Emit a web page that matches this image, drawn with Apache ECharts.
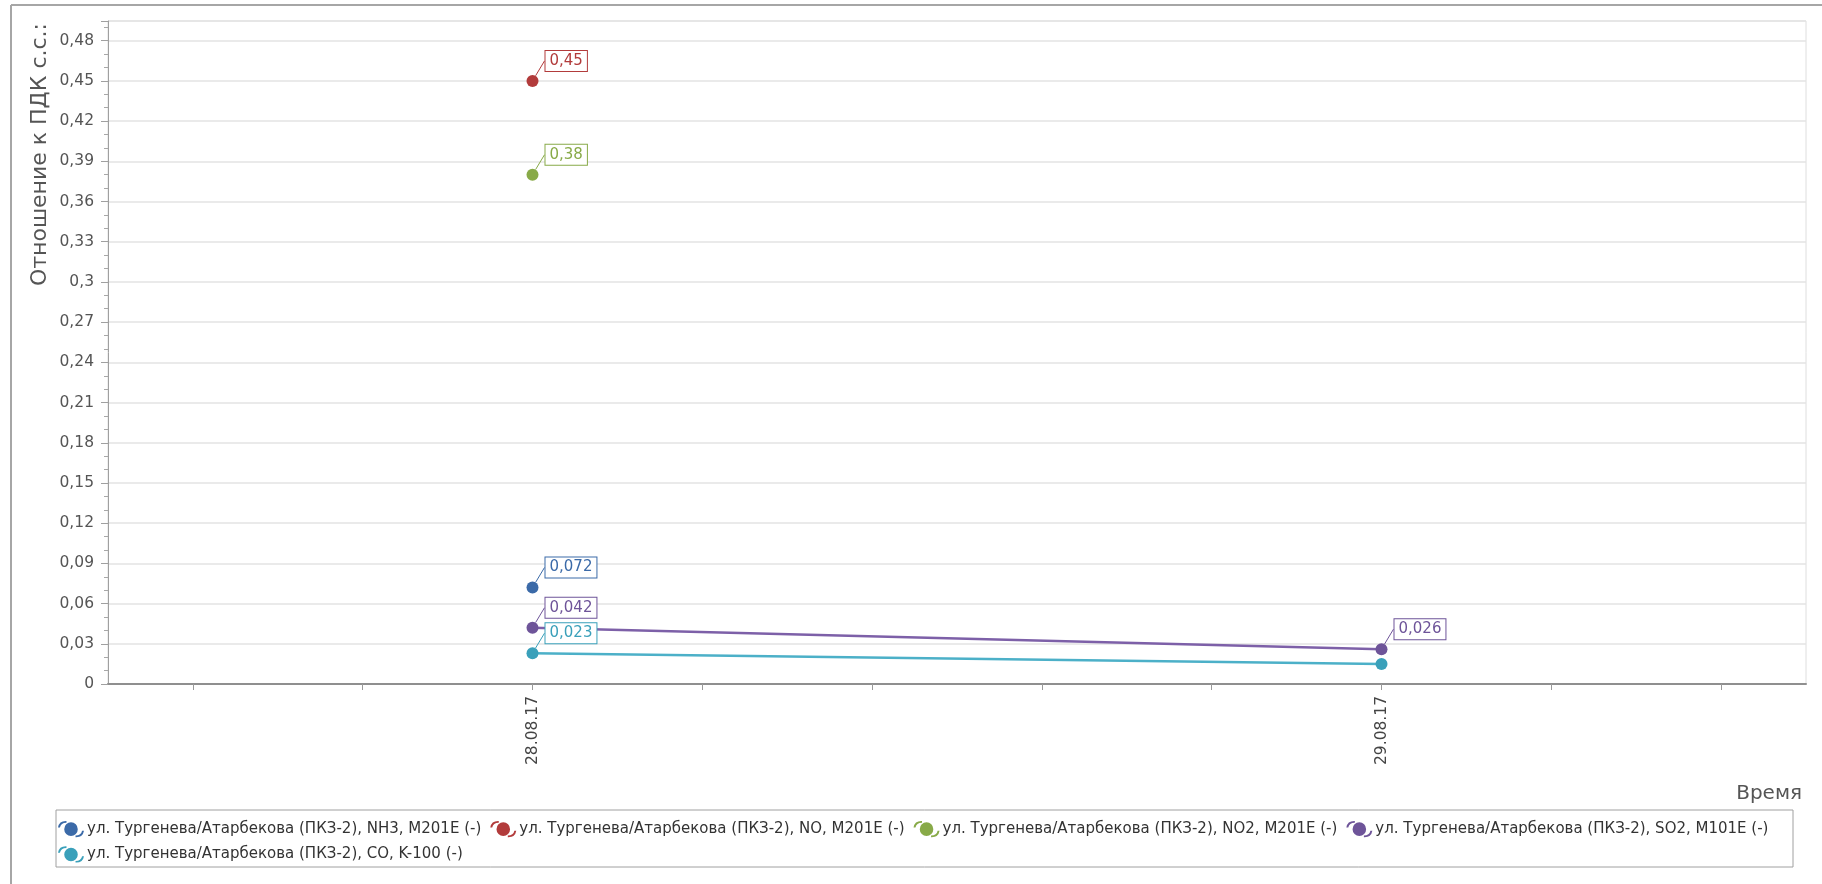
<!DOCTYPE html>
<html>
<head>
<meta charset="utf-8">
<script src="https://cdn.jsdelivr.net/npm/echarts@6/dist/echarts.min.js"></script>
<style>
html,body{margin:0;padding:0;background:#fff;}
#chart{width:1822px;height:884px;}
</style>
</head>
<body>
<div id="chart"></div>
<script>
// ---- data ----
const categories = ['28.08.17', '29.08.17'];
const seriesNames = [
  'ул. Тургенева/Атарбекова (ПКЗ-2), NH3, M201E (-)',
  'ул. Тургенева/Атарбекова (ПКЗ-2), NO, M201E (-)',
  'ул. Тургенева/Атарбекова (ПКЗ-2), NO2, M201E (-)',
  'ул. Тургенева/Атарбекова (ПКЗ-2), SO2, M101E (-)',
  'ул. Тургенева/Атарбекова (ПКЗ-2), CO, K-100 (-)'
];
const nh3 = [0.072, null];
const no = [0.45, null];
const no2 = [0.38, null];
const so2 = [0.042, 0.026];
const co = [0.023, 0.015];
const coLabelled = [true, false];
const yTickValues = [0, 0.03, 0.06, 0.09, 0.12, 0.15, 0.18, 0.21, 0.24, 0.27, 0.3, 0.33, 0.36, 0.39, 0.42, 0.45, 0.48];
const yAxisTitle = 'Отношение к ПДК с.с.:';
const xAxisTitle = 'Время';

// ---- styling ----
const FONT = 'DejaVu Sans';
const colors = ['#3b6aa8', '#b23b3b', '#88aa48', '#6e5499', '#3aa0ba'];
const lineColors = ['#3b6aa8', '#b23b3b', '#88aa48', '#7d60a8', '#4cb0c8'];
const fmt = v => String(+(+v).toFixed(3)).replace('.', ',');

const legendIcon = 'path://M6,8a6,6 0 1,0 12,0a6,6 0 1,0 -12,0Z M0.5,6.5 Q1.5,0.5 8,0.8 L8,2.3 Q3,2.3 2.2,6.5 Z M23.5,9.5 Q22.5,15.5 16,15.2 L16,13.7 Q21,13.7 21.8,9.5 Z';

function buildData(values, labelled) {
  const out = [];
  values.forEach((v, i) => {
    if (v === null) return;
    const item = { value: [i + 0.5, v] };
    if (labelled && !labelled[i]) item.label = { show: false };
    out.push(item);
  });
  return out;
}

function makeSeries(idx, values, labelled) {
  return {
    name: seriesNames[idx],
    type: 'line',
    data: buildData(values, labelled),
    symbol: 'circle',
    symbolSize: 12,
    color: colors[idx],
    itemStyle: { color: colors[idx] },
    lineStyle: { color: lineColors[idx], width: 2.5 },
    z: 3,
    label: {
      show: true,
      formatter: p => fmt(p.value[1]),
      color: colors[idx],
      backgroundColor: '#fff',
      borderColor: colors[idx],
      borderWidth: 1,
      padding: [3, 4, 2, 4],
      fontFamily: FONT,
      fontSize: 15
    },
    labelLine: { show: true, lineStyle: { color: colors[idx], width: 1 } },
    labelLayout: p => ({
      x: p.rect.x + p.rect.width / 2 + 13,
      y: p.rect.y + p.rect.height / 2 - 20,
      align: 'left',
      verticalAlign: 'middle',
      hideOverlap: false
    }),
    emphasis: { disabled: true },
    animation: false
  };
}

const chart = echarts.init(document.getElementById('chart'));
chart.setOption({
  animation: false,
  backgroundColor: '#fff',
  grid: {
    left: 108, right: 16, top: 21, bottom: 200,
    containLabel: false, outerBoundsMode: 'none',
    show: true, borderColor: '#dedede', borderWidth: 1, backgroundColor: 'transparent'
  },
  graphic: [
    { type: 'line', shape: { x1: 11, y1: 5, x2: 1822, y2: 5 }, style: { stroke: '#a6a6a6', lineWidth: 2 }, silent: true },
    { type: 'line', shape: { x1: 11, y1: 5, x2: 11, y2: 884 }, style: { stroke: '#a6a6a6', lineWidth: 2 }, silent: true },
    { type: 'rect', shape: { x: 56, y: 810, width: 1737, height: 57 }, style: { fill: 'none', stroke: '#a0a0a0', lineWidth: 1 }, silent: true }
  ],
  xAxis: {
    type: 'value',
    min: 0, max: 2,
    name: xAxisTitle,
    nameLocation: 'end',
    nameGap: -4,
    nameMoveOverlap: false,
    nameTextStyle: { fontFamily: FONT, fontSize: 20, color: '#555', align: 'right', verticalAlign: 'top', padding: [100, 0, 0, 0] },
    axisLine: { show: true, lineStyle: { color: '#8f8f8f', width: 2 } },
    axisTick: { show: true, length: 6, lineStyle: { color: '#9a9a9a' },
      customValues: [0.1, 0.3, 0.5, 0.7, 0.9, 1.1, 1.3, 1.5, 1.7, 1.9] },
    axisLabel: {
      customValues: categories.map((c, i) => i + 0.5),
      formatter: v => categories[Math.round(v - 0.5)],
      rotate: 90, margin: 12,
      fontFamily: FONT, fontSize: 15.5, color: '#444'
    },
    splitLine: { show: false }
  },
  yAxis: {
    type: 'value',
    min: 0, max: 0.4947, interval: 0.03,
    name: yAxisTitle,
    nameLocation: 'end',
    nameRotate: 90,
    nameGap: -2,
    nameMoveOverlap: false,
    nameTextStyle: { fontFamily: FONT, fontSize: 22, color: '#555', align: 'right', verticalAlign: 'bottom', padding: [0, 0, 57, 0] },
    axisLine: { show: true, lineStyle: { color: '#a0a0a0', width: 1 } },
    axisTick: { show: true, length: 7, lineStyle: { color: '#a0a0a0' } },
    minorTick: { show: true, splitNumber: 3, length: 4, lineStyle: { color: '#a8a8a8' } },
    axisLabel: {
      showMaxLabel: false,
      formatter: v => fmt(v),
      margin: 14, fontFamily: FONT, fontSize: 15.5, color: '#555'
    },
    splitLine: { show: true, lineStyle: { color: '#e3e3e3', width: 1.5 } }
  },
  legend: {
    left: 58, top: 821, width: 1734,
    itemWidth: 26, itemHeight: 18, itemGap: 9,
    icon: legendIcon,
    padding: 0,
    textStyle: { fontFamily: FONT, fontSize: 15, color: '#333', padding: [0, 0, 0, -2] },
    selectedMode: false,
    data: seriesNames
  },
  series: [
    makeSeries(0, nh3),
    makeSeries(1, no),
    makeSeries(2, no2),
    makeSeries(3, so2),
    makeSeries(4, co, coLabelled)
  ]
});
</script>
</body>
</html>
